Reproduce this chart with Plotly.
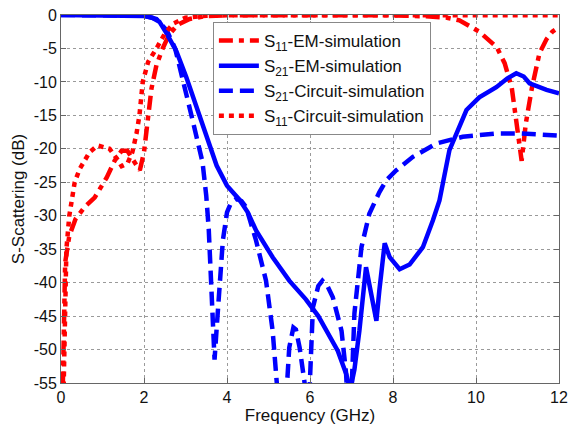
import plotly.graph_objects as go

# S11 EM-simulation (red dash-dot)
s11_em_f = [0.03, 0.06, 0.1, 0.2, 0.35, 0.57, 0.81, 1.1, 1.29, 1.46, 1.6, 1.75, 1.9, 2.0, 2.08, 2.18, 2.3, 2.45,
            2.6, 2.8, 3.1, 3.5, 4.0, 6.0, 8.0, 8.8, 9.3, 9.6, 10.08, 10.5, 10.69, 10.86, 10.97, 11.05, 11.1,
            11.15, 11.2, 11.35, 11.53, 11.7, 11.84, 12.0]
s11_em_db = [-60, -45, -37, -33, -30.5, -28.7, -27.3, -24.3, -21.8, -20.3, -20.3, -21.8, -23.2, -20.5, -16, -11, -7.5, -5,
             -3, -1.5, -0.6, -0.15, -0.05, 0, -0.05, -0.2, -0.4, -0.8, -2.5, -4.8, -7.2, -10.8, -15.7, -20, -21.8,
             -19, -16.2, -10.8, -5.7, -3.6, -2.5, -1.8]

# S21 EM-simulation (blue solid)
s21_em_f = [0, 1, 2.0, 2.2, 2.37, 2.54, 2.78, 3.02, 3.26, 3.5, 3.75, 4.0, 4.3, 4.5, 4.7, 5.1, 5.5, 5.9, 6.2, 6.4,
            6.67, 6.87, 6.97, 7.07, 7.19, 7.35, 7.48, 7.6, 7.67, 7.8, 7.92, 8.16, 8.4, 8.72, 8.96, 9.12, 9.36,
            9.53, 9.77, 10.08, 10.49, 10.75, 10.97, 11.15, 11.29, 11.7, 12.0]
s21_em_db = [0, -0.05, -0.15, -0.4, -1.0, -2.7, -5.4, -9.3, -13.8, -18, -22.5, -25.5, -27.6, -29.5, -32.2, -36.2,
             -39.7, -42.5, -45, -47.2, -50.2, -53.6, -56, -53, -47.2, -37.7, -41.6, -45.7, -41.2, -34.1, -36.2,
             -38, -37.3, -34.7, -30.7, -27.7, -20.2, -17.7, -14.2, -12.3, -10.8, -9.5, -8.7, -9.2, -10.2, -11.2, -11.7]

# S21 Circuit-simulation (blue dashed)
s21_ci_f = [0, 2.0, 2.3, 2.55, 2.75, 2.93, 3.17, 3.41, 3.5, 3.56, 3.62, 3.66, 3.7, 3.76, 3.82, 3.9, 4.0, 4.1, 4.22,
            4.35, 4.46, 4.7, 4.94, 5.1, 5.2, 5.3, 5.4, 5.5, 5.6, 5.66, 5.75, 5.87, 5.95, 6.0, 6.07, 6.2, 6.3, 6.42,
            6.55, 6.76, 6.87, 6.92, 6.98, 7.07, 7.24, 7.43, 7.67, 7.84, 8.08, 8.48, 9.05, 9.68, 10.49, 11.05, 11.97]
s21_ci_db = [0, -0.1, -0.6, -2.3, -5, -9.3, -15.7, -22, -27, -32, -40, -46, -51.5, -46, -39.7, -33.7, -29.5, -28,
             -27.5, -27.8, -28.7, -33.7, -39.7, -47.2, -55, -62, -60, -49.7, -46.7, -47, -49.7, -55, -62, -55,
             -43.7, -40.5, -39.7, -40.5, -42.2, -47.2, -53.6, -60, -60, -44.6, -34.7, -29.7, -26.5, -24.7, -23.2,
             -21.2, -19.2, -18.2, -17.7, -17.7, -18]

# S11 Circuit-simulation (red dotted)
s11_ci_f = [0.05, 0.09, 0.13, 0.2, 0.33, 0.45, 0.69, 0.88, 1.17, 1.35, 1.46, 1.6, 1.72, 1.82, 1.89, 1.97, 2.1,
            2.3, 2.5, 2.7, 3.0, 3.5, 4.0, 12.0]
s11_ci_db = [-60, -45, -35, -30, -25, -23, -20.5, -19.5, -20, -21.5, -22.6, -22.2, -20.5, -17.7, -15, -10, -7,
             -5, -2.8, -1.3, -0.4, -0.1, -0.05, -0.05]

x_ticks = [0, 2, 4, 6, 8, 10, 12]
y_ticks = [0, -5, -10, -15, -20, -25, -30, -35, -40, -45, -50, -55]
y_ticktext = ["0", "-5", "-10", "-15", "-20", "-25", "-30", "-35", "-40", "-45", "-50", "-55"]

RED = "#FF0000"
BLUE = "#0000FF"
LW = 4.5
FONT = "Liberation Sans, Arial, sans-serif"

fig = go.Figure()
fig.add_trace(go.Scatter(x=s11_em_f, y=s11_em_db, mode="lines", name="S<sub>11</sub>-EM-simulation",
                         line=dict(color=RED, width=LW, dash="14px,6px,5px,6px")))
fig.add_trace(go.Scatter(x=s21_em_f, y=s21_em_db, mode="lines", name="S<sub>21</sub>-EM-simulation",
                         line=dict(color=BLUE, width=LW)))
fig.add_trace(go.Scatter(x=s21_ci_f, y=s21_ci_db, mode="lines", name="S<sub>21</sub>-Circuit-simulation",
                         line=dict(color=BLUE, width=LW, dash="14px,7px")))
fig.add_trace(go.Scatter(x=s11_ci_f, y=s11_ci_db, mode="lines", name="S<sub>11</sub>-Circuit-simulation",
                         line=dict(color=RED, width=LW, dash="5px,5px")))

axis_common = dict(showgrid=True, gridcolor="#9a9a9a", griddash="dot", gridwidth=1,
                   showline=True, linecolor="#666666", linewidth=1, mirror="ticks",
                   ticks="inside", ticklen=5, tickcolor="#666666",
                   tickfont=dict(family=FONT, size=16, color="#111111"),
                   zeroline=False, automargin=False)

fig.update_xaxes(range=[0, 12], tickvals=x_ticks,
                 title=dict(text="Frequency (GHz)", standoff=0,
                            font=dict(family=FONT, size=17, color="#111111")),
                 **axis_common)
fig.update_yaxes(range=[-55, 0], tickvals=y_ticks, ticktext=y_ticktext,
                 title=dict(text="S-Scattering (dB)", standoff=4,
                            font=dict(family=FONT, size=17, color="#111111")),
                 **axis_common)

fig.update_layout(
    width=569, height=425,
    margin=dict(l=61, r=10, t=15, b=42),
    plot_bgcolor="white", paper_bgcolor="white",
    legend=dict(x=0.305, y=0.981, xanchor="left", yanchor="top",
                bgcolor="white", bordercolor="#888888", borderwidth=1,
                font=dict(family=FONT, size=17, color="#111111"),
                itemwidth=40, tracegroupgap=0,
                entrywidth=190, entrywidthmode="pixels"),
    showlegend=True,
)

fig.write_html("out.html")
